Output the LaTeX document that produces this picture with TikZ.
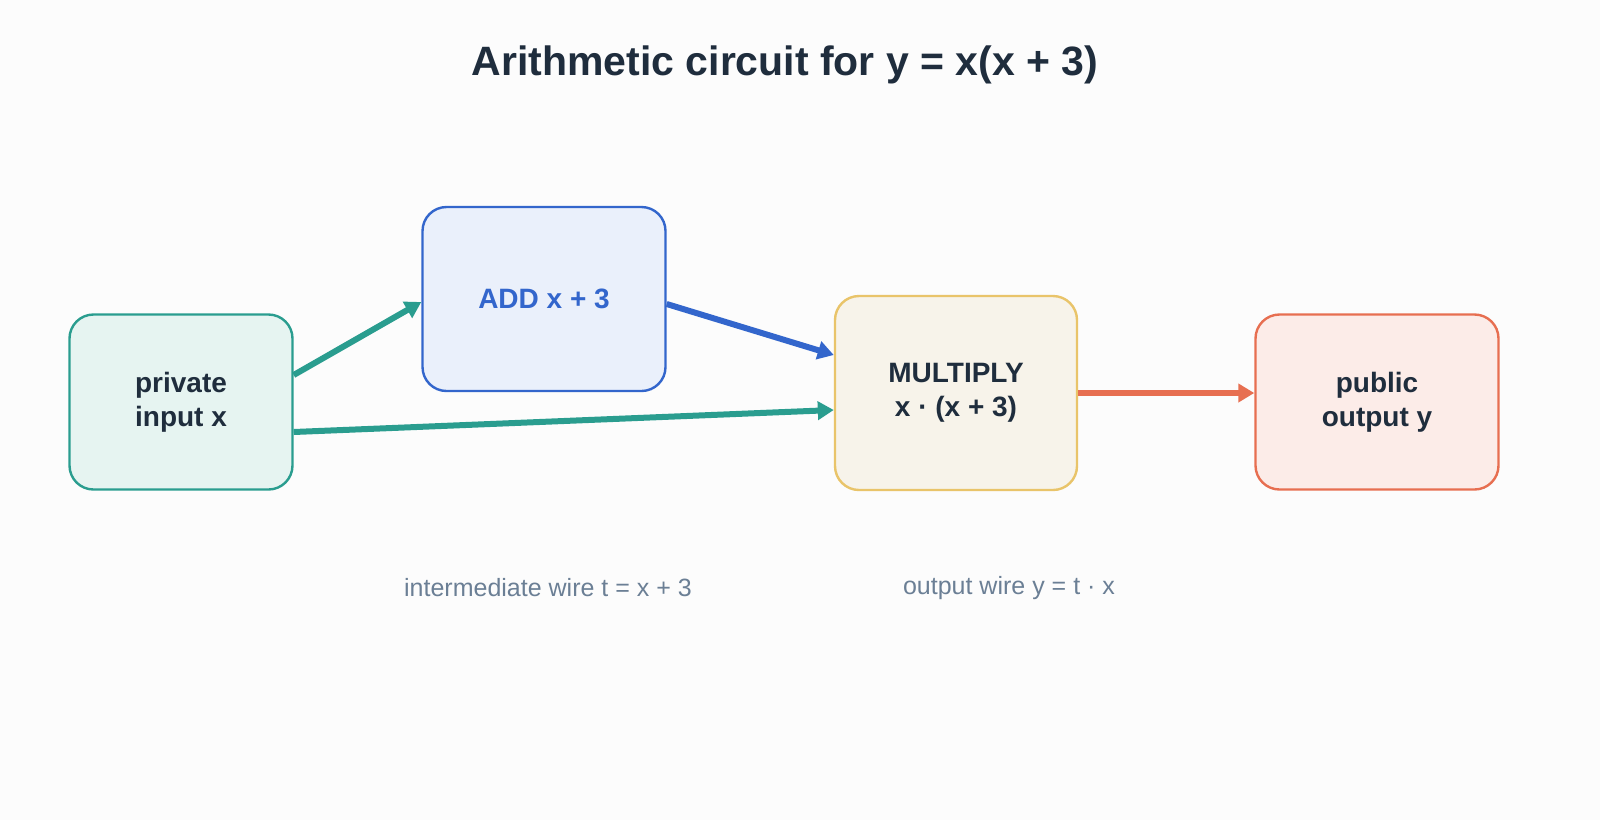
\documentclass[tikz,border=0pt]{standalone}
\usepackage{fontspec}
\setmainfont{Liberation Sans}
\usetikzlibrary{positioning,arrows.meta}
\definecolor{teal}{HTML}{2A9D8F}
\definecolor{tealbg}{HTML}{E6F4F1}
\definecolor{blu}{HTML}{3366CC}
\definecolor{blubg}{HTML}{EAF0FB}
\definecolor{ylw}{HTML}{E9C46A}
\definecolor{ylwbg}{HTML}{F7F3EA}
\definecolor{org}{HTML}{E76F51}
\definecolor{orgbg}{HTML}{FCECE8}
\definecolor{ink}{HTML}{1F2D3D}
\definecolor{muted}{HTML}{6B7F95}
\tikzset{gate/.style={draw=#1, line width=1.2pt, rounded corners=12pt, align=center, font=\fontsize{14}{17}\selectfont\bfseries, text=ink, inner sep=0pt}}
\tikzset{wire/.style={draw=#1, line width=3pt, -{Triangle[length=8pt,width=9pt]}}}
\tikzset{note/.style={font=\fontsize{12.5}{15}\selectfont, text=muted}}
\begin{document}
\begin{tikzpicture}[x=0.5pt,y=-0.5pt]
	\fill[white!98!gray] (0,0) rectangle (1600,820);
	\useasboundingbox (0,0) rectangle (1600,820);
	\node[font=\fontsize{20.5}{25}\selectfont\bfseries, text=ink] (title) at (785,65) {Arithmetic circuit for y = x(x + 3)};
	%
	\node[gate=teal, fill=tealbg, minimum width=111.5pt, minimum height=87.5pt] (priv) at (181,402) {private\\input x};
	\node[gate=blu, fill=blubg, minimum width=121.5pt, minimum height=92pt, text=blu] (add) at (544,299) {ADD x + 3};
	\node[gate=ylw, fill=ylwbg, minimum width=121pt, minimum height=97pt] (mul) at (956,393) {MULTIPLY\\x · (x + 3)};
	\node[gate=org, fill=orgbg, minimum width=121.5pt, minimum height=87.5pt] (pub) at (1377,402) {public\\output y};
	%
	\draw[wire=teal] ([yshift=13.5pt]priv.east) -- ([yshift=-1.5pt]add.west);
	\draw[wire=blu] ([yshift=-2.5pt]add.east) -- ([yshift=19pt]mul.west);
	\draw[wire=teal] ([yshift=-15pt]priv.east) -- ([yshift=-8.5pt]mul.west);
	\draw[wire=org] (mul.east) -- (mul.east -| pub.west);
	%
	\node[note] (tnote) at (548,588) {intermediate wire t = x + 3};
	\node[note] (ynote) at (1009,588) {output wire y = t · x};
\end{tikzpicture}
\end{document}
